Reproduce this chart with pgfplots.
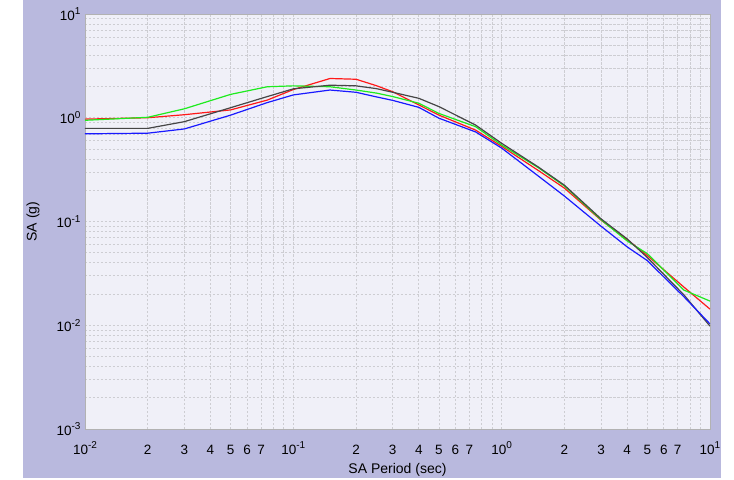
\documentclass[border=0pt]{standalone}
\usepackage{fontspec}
\setmainfont{Liberation Sans}
\usepackage{pgfplots}
\pgfplotsset{compat=1.18}
\definecolor{outerbg}{RGB}{185,185,222}
\definecolor{innerbg}{RGB}{240,240,248}
\definecolor{gridc}{RGB}{205,205,210}
\definecolor{cred}{RGB}{255,25,25}
\definecolor{cgreen}{RGB}{30,235,30}
\definecolor{cblack}{RGB}{70,70,70}
\definecolor{cblue}{RGB}{25,25,255}
\newcommand{\tp}[1]{10\raisebox{0.75ex}{\fontsize{10}{10}\selectfont #1}}
\begin{document}
\begin{tikzpicture}
\fill[white] (0pt,0pt) rectangle (734pt,478pt);
\fill[outerbg] (23pt,0pt) rectangle (721pt,478pt);
\begin{axis}[
  at={(85pt,49pt)}, anchor=south west,
  scale only axis, width=625pt, height=415pt,
  xmode=log, ymode=log,
  xmin=0.01, xmax=10, ymin=0.001, ymax=10,
  axis background/.style={fill=innerbg},
  axis line style={draw=black!30},
  major tick length=0pt, minor tick length=0pt,
  xtick={0.01,0.02,0.03,0.04,0.05,0.06,0.07,0.1,0.2,0.3,0.4,0.5,0.6,0.7,1,2,3,4,5,6,7,10},
  xticklabels={\tp{-2},2,3,4,5,6,7,\tp{-1},2,3,4,5,6,7,\tp{0},2,3,4,5,6,7,\tp{1}},
  minor xtick={0.08,0.09,0.8,0.9,8,9},
  ytick={0.001,0.01,0.1,1,10},
  yticklabels={\tp{-3},\tp{-2},\tp{-1},\tp{0},\tp{1}},
  minor ytick={0.002,0.003,0.004,0.005,0.006,0.007,0.008,0.009,0.02,0.03,0.04,0.05,0.06,0.07,0.08,0.09,0.2,0.3,0.4,0.5,0.6,0.7,0.8,0.9,2,3,4,5,6,7,8,9},
  grid=both,
  major grid style={dash pattern=on 2.5pt off 1.5pt, gridc, line width=0.6pt},
  minor grid style={dash pattern=on 2.5pt off 1.5pt, gridc, line width=0.6pt},
  tick label style={font=\fontsize{13.5}{15}\selectfont, text=black},
  xticklabel style={anchor=base, yshift=-25pt},
  yticklabel style={xshift=-1pt},
  xlabel={SA Period (sec)}, ylabel={SA (g)},
  label style={font=\fontsize{14}{16}\selectfont},
  xlabel style={at={(axis description cs:0.5,0)}, anchor=base, yshift=-44pt},
  ylabel style={at={(axis description cs:-0.083,0.5)}, anchor=center},
  every axis plot/.append style={line width=1.2pt, mark=none},
]
\addplot[cred] coordinates {
(0.01,0.97) (0.02,1.00) (0.03,1.07) (0.05,1.19) (0.075,1.48) (0.1,1.87) (0.15,2.39) (0.2,2.35) (0.25,2.04) (0.3,1.78) (0.4,1.33) (0.5,1.06) (0.75,0.76) (1,0.53) (1.5,0.31) (2,0.21) (3,0.103) (4,0.067) (5,0.047) (7.5,0.0233) (10,0.0143)};
\addplot[cgreen] coordinates {
(0.01,0.945) (0.02,1.01) (0.03,1.22) (0.05,1.68) (0.075,1.99) (0.1,2.03) (0.15,1.99) (0.2,1.85) (0.25,1.73) (0.3,1.60) (0.4,1.38) (0.5,1.10) (0.75,0.82) (1,0.546) (1.5,0.33) (2,0.22) (3,0.104) (4,0.065) (5,0.049) (7.5,0.0218) (10,0.0171)};
\addplot[cblack] coordinates {
(0.01,0.79) (0.02,0.79) (0.03,0.917) (0.05,1.25) (0.075,1.6) (0.1,1.9) (0.15,2.06) (0.2,2.03) (0.25,1.91) (0.3,1.76) (0.4,1.54) (0.5,1.28) (0.75,0.85) (1,0.567) (1.5,0.335) (2,0.224) (3,0.106) (4,0.068) (5,0.045) (7.5,0.0196) (10,0.0098)};
\addplot[cblue] coordinates {
(0.01,0.70) (0.02,0.71) (0.03,0.78) (0.05,1.06) (0.075,1.40) (0.1,1.66) (0.15,1.85) (0.2,1.76) (0.25,1.59) (0.3,1.47) (0.4,1.26) (0.5,0.99) (0.75,0.73) (1,0.51) (1.5,0.274) (2,0.176) (3,0.090) (4,0.057) (5,0.042) (7.5,0.0188) (10,0.0103)};
\end{axis}
\end{tikzpicture}
\end{document}
